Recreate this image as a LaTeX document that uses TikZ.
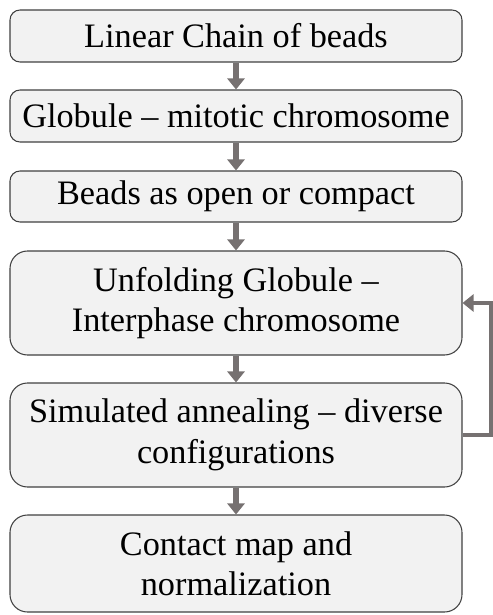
\documentclass[tikz,border=0pt]{standalone}
\usepackage{fontspec}
\setmainfont{Liberation Serif}
\usepackage{xcolor}
\usetikzlibrary{arrows.meta}

\definecolor{boxfill}{HTML}{F2F2F2}
\definecolor{boxline}{HTML}{404040}
\definecolor{arrgray}{HTML}{767171}

\begin{document}
\begin{tikzpicture}
			\tikzset{
				stage/.style={draw=boxline, fill=boxfill, line width=0.6pt,
					rounded corners=0.2cm, minimum width=9.04cm,
					align=center, inner sep=0pt,
					font=\fontsize{19.5pt}{23pt}\selectfont},
				bigstage/.style={stage, rounded corners=0.35cm},
				flow/.style={draw=arrgray, line width=3.2pt,
					-{Triangle[length=0.22cm,width=0.34cm]}}
			}

			\useasboundingbox (0,0) rectangle (9.84,-12.3);

			\node[stage, minimum height=1.04cm] (chain) at (4.72,-0.72){Linear Chain of beads};
			\node[stage, minimum height=1.04cm] (glob) at (4.72,-2.32){Globule -- mitotic chromosome};
			\node[stage, minimum height=1.02cm] (beads) at (4.72,-3.93){Beads as open or compact};
			\node[bigstage, minimum height=2.08cm] (unfold) at (4.72,-6.06){Unfolding Globule --\\Interphase chromosome};
			\node[bigstage, minimum height=2.08cm] (anneal) at (4.72,-8.70){Simulated annealing -- diverse\\configurations};
			\node[bigstage, minimum height=1.94cm] (cmap) at (4.72,-11.27){Contact map and\\normalization};

			\draw[flow] (chain) -- (glob);
			\draw[flow] (glob) -- (beads);
			\draw[flow] (beads) -- (unfold);
			\draw[flow] (unfold) -- (anneal);
			\draw[flow] (anneal) -- (cmap);
			% loop back
			\draw[flow, line width=2.6pt] (anneal.east) -- ++(0.58,0) |- (unfold.east);
		\end{tikzpicture}
\end{document}
